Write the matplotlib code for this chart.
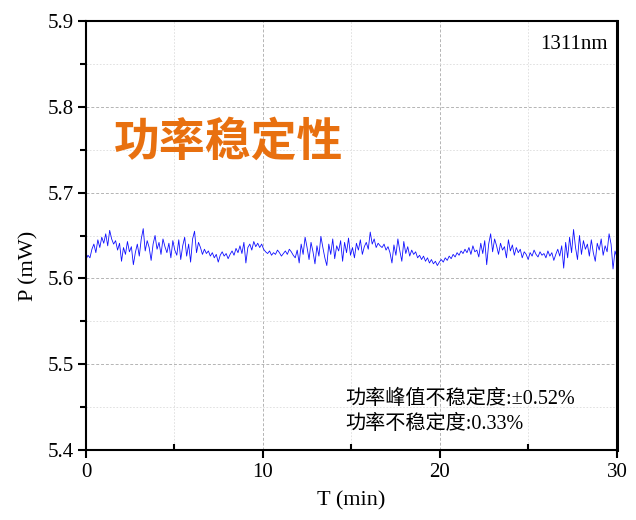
import numpy as np
import matplotlib
matplotlib.use("Agg")
import matplotlib.pyplot as plt
from matplotlib.ticker import MultipleLocator

# power readings (mW), sampled evenly over 30 min
power_mw = [
    5.622, 5.627, 5.624, 5.634, 5.640, 5.630, 5.645, 5.636, 5.648, 5.641,
    5.652, 5.638, 5.656, 5.646, 5.640, 5.644, 5.633, 5.641, 5.620, 5.636,
    5.628, 5.643, 5.631, 5.637, 5.616, 5.630, 5.640, 5.626, 5.646, 5.658,
    5.632, 5.644, 5.636, 5.621, 5.640, 5.650, 5.634, 5.642, 5.628, 5.646,
    5.637, 5.630, 5.641, 5.624, 5.644, 5.633, 5.627, 5.645, 5.622, 5.638,
    5.648, 5.626, 5.640, 5.619, 5.646, 5.655, 5.630, 5.642, 5.636, 5.628,
    5.634, 5.629, 5.632, 5.626, 5.630, 5.624, 5.628, 5.619, 5.627, 5.631,
    5.626, 5.629, 5.623, 5.628, 5.632, 5.627, 5.635, 5.630, 5.638, 5.629,
    5.642, 5.618, 5.636, 5.640, 5.633, 5.643, 5.637, 5.641, 5.636, 5.640,
    5.634, 5.631, 5.629, 5.632, 5.627, 5.630, 5.628, 5.633, 5.630, 5.626,
    5.629, 5.632, 5.628, 5.634, 5.631, 5.627, 5.624, 5.633, 5.618, 5.640,
    5.628, 5.648, 5.636, 5.622, 5.642, 5.631, 5.617, 5.638, 5.626, 5.649,
    5.636, 5.624, 5.615, 5.640, 5.628, 5.646, 5.623, 5.638, 5.632, 5.644,
    5.620, 5.642, 5.630, 5.647, 5.627, 5.636, 5.624, 5.641, 5.633, 5.645,
    5.628, 5.637, 5.642, 5.634, 5.654, 5.640, 5.646, 5.636, 5.641, 5.638,
    5.636, 5.640, 5.633, 5.637, 5.630, 5.618, 5.639, 5.627, 5.646, 5.632,
    5.620, 5.643, 5.629, 5.637, 5.626, 5.633, 5.628, 5.631, 5.624, 5.627,
    5.622, 5.626, 5.620, 5.624, 5.618, 5.622, 5.617, 5.620, 5.615, 5.619,
    5.622, 5.619, 5.624, 5.621, 5.626, 5.623, 5.628, 5.625, 5.630, 5.627,
    5.632, 5.629, 5.634, 5.630, 5.636, 5.628, 5.638, 5.631, 5.633, 5.625,
    5.641, 5.629, 5.644, 5.616, 5.640, 5.652, 5.631, 5.646, 5.638, 5.628,
    5.641, 5.633, 5.637, 5.624, 5.645, 5.632, 5.639, 5.627, 5.636, 5.630,
    5.634, 5.624, 5.631, 5.628, 5.622, 5.630, 5.626, 5.633, 5.628, 5.625,
    5.631, 5.627, 5.629, 5.624, 5.632, 5.626, 5.630, 5.621, 5.628, 5.634,
    5.626, 5.638, 5.612, 5.642, 5.624, 5.648, 5.630, 5.657, 5.636, 5.622,
    5.650, 5.628, 5.644, 5.634, 5.640, 5.626, 5.645, 5.630, 5.620, 5.641,
    5.633, 5.646, 5.627, 5.638, 5.631, 5.652, 5.640, 5.611, 5.632, 5.624,
]
t_start, t_end = 0, 30

title_text = "功率稳定性"
wavelength_text = "1311nm"
stat_lines = ["功率峰值不稳定度:±0.52%", "功率不稳定度:0.33%"]

serif_cjk = ["Liberation Serif", "Noto Sans CJK SC", "DejaVu Sans"]

t_min = np.linspace(t_start, t_end, len(power_mw))

fig = plt.figure(figsize=(6.36, 5.2), dpi=100)
ax = fig.add_axes([0.1352, 0.1346, 0.8349, 0.825])

ax.plot(t_min, power_mw, color="#1010ff", linewidth=0.6)

ax.set_xlim(0, 30)
ax.set_ylim(5.4, 5.9)
ax.xaxis.set_major_locator(MultipleLocator(10))
ax.xaxis.set_minor_locator(MultipleLocator(5))
ax.yaxis.set_major_locator(MultipleLocator(0.1))
ax.yaxis.set_minor_locator(MultipleLocator(0.05))

ax.grid(True, which="major", color="#b4b4b4", linestyle=(0, (3, 2)), linewidth=0.7)
ax.grid(True, which="minor", color="#dcdcdc", linestyle=(0, (2, 2)), linewidth=0.6)
ax.set_axisbelow(True)

ax.tick_params(axis="both", which="major", direction="out", length=6, width=1.5,
               labelsize=15, pad=3)
ax.tick_params(axis="x", which="minor", direction="in", length=4, width=1.5)
ax.tick_params(axis="y", which="minor", direction="out", length=4, width=1.5)
for lab in ax.get_xticklabels() + ax.get_yticklabels():
    lab.set_family(serif_cjk)

for side in ["left", "bottom", "top"]:
    ax.spines[side].set_linewidth(1.5)
ax.spines["right"].set_linewidth(2.2)

ax.set_xlabel("T (min)", fontsize=16, family=serif_cjk)
ax.xaxis.set_label_coords(0.5, -0.095)
ax.set_ylabel("P (mW)", fontsize=16, family=serif_cjk)
ax.yaxis.set_label_coords(-0.09, 0.43)

ax.text(1.55, 5.758, title_text, fontsize=33, fontweight="bold", color="#e8700f",
        family=["Noto Sans CJK SC"], ha="left", va="center")
ax.text(29.45, 5.873, wavelength_text, fontsize=15, family=serif_cjk,
        ha="right", va="center")
ax.text(14.65, 5.459, stat_lines[0], fontsize=14.5, family=serif_cjk,
        ha="left", va="center")
ax.text(14.65, 5.430, stat_lines[1], fontsize=14.5, family=serif_cjk,
        ha="left", va="center")

fig.savefig("out.png", dpi=100)
